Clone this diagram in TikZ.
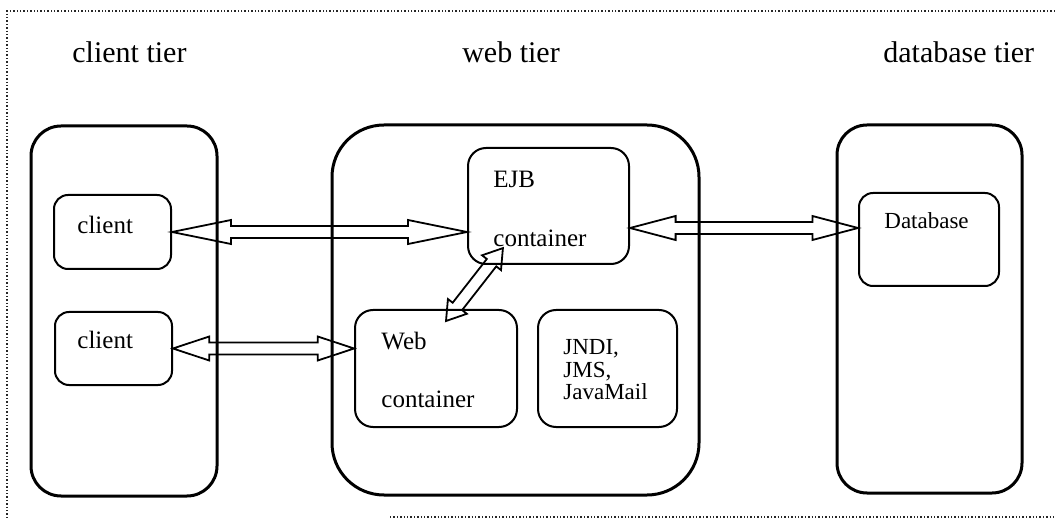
\documentclass[tikz,border=0pt]{standalone}
\usepackage{fontspec}
\setmainfont{Liberation Serif}
\usetikzlibrary{calc}
\newcommand{\blockarrow}[2]{%
  \draw[blockline] let \p1=(#1), \p2=(#2),
    \n1={atan2(\y2-\y1,\x2-\x1)}, \n2={veclen(\x2-\x1,\y2-\y1)},
    \n3={0.2*\n2}, \n4={\n2-\n3} in
    [shift={(\p1)},rotate=\n1]
    (0pt,0pt) -- (\n3,6pt) -- (\n3,3pt) -- (\n4,3pt) -- (\n4,6pt) -- (\n2,0pt)
    -- (\n4,-6pt) -- (\n4,-3pt) -- (\n3,-3pt) -- (\n3,-6pt) -- cycle;}
\begin{document}
\begin{tikzpicture}[x=0.5pt,y=-0.5pt,
    tierbox/.style={draw,line width=1.5pt,inner sep=0pt},
    inbox/.style={draw,line width=1pt,rounded corners=7pt,inner sep=0pt},
    blockline/.style={draw,line width=0.9pt,line join=miter},
    tiertext/.style={inner sep=0pt,font=\fontsize{15}{18}\selectfont},
    boxtext/.style={inner sep=0pt,font=\fontsize{12.5}{15}\selectfont},
    smalltext/.style={inner sep=0pt,font=\fontsize{11.5}{13}\selectfont}]
  \useasboundingbox (0,0) rectangle (1055,518);
  \draw[densely dotted,line width=0.7pt,black!85] (1055,11) -- (7,11) -- (7,518);
  \draw[densely dotted,line width=0.7pt,black!85] (390,517) -- (1055,517);

  \node[tiertext,anchor=base west] (lclient) at (72,63) {client tier};
  \node[tiertext,anchor=base] (lweb) at (511,63) {web tier};
  \node[tiertext,anchor=base west] (ldb) at (883,63) {database tier};

  \node[tierbox,rounded corners=15pt,minimum width=93pt,minimum height=185pt] (clienttier) at (124,311) {};
  \node[tierbox,rounded corners=26pt,minimum width=183.5pt,minimum height=185pt] (webtier) at (515.5,310) {};
  \node[tierbox,rounded corners=15pt,minimum width=92.5pt,minimum height=184pt] (dbtier) at (929.5,309) {};

  \node[inbox,minimum width=58.5pt,minimum height=37pt] (c1) at (112.5,232) {};
  \node[boxtext,anchor=base west] (tc1) at (77,234) {client};
  \node[inbox,minimum width=58.5pt,minimum height=36.5pt] (c2) at (113.5,348.5) {};
  \node[boxtext,anchor=base west] (tc2) at (77,349) {client};

  \node[inbox,rounded corners=9pt,minimum width=80.5pt,minimum height=58pt] (ejb) at (548.5,206) {};
  \node[boxtext,anchor=base west] (tejb1) at (493,188) {EJB};
  \node[boxtext,anchor=base west] (tejb2) at (493,247) {container};

  \node[inbox,rounded corners=9pt,minimum width=81pt,minimum height=58.5pt] (web) at (436,368.5) {};
  \node[boxtext,anchor=base west] (tweb1) at (381,350) {Web};
  \node[boxtext,anchor=base west] (tweb2) at (381,408) {container};

  \node[inbox,rounded corners=9pt,minimum width=69.5pt,minimum height=58.5pt] (jndi) at (607.5,368.5) {};
  \node[smalltext,anchor=base west] (tjndi1) at (563,355) {JNDI,};
  \node[smalltext,anchor=base west] (tjndi2) at (563,378) {JMS,};
  \node[smalltext,anchor=base west] (tjndi3) at (563,400) {JavaMail};

  \node[inbox,minimum width=70pt,minimum height=46.5pt] (db) at (929,239.5) {};
  \node[smalltext,anchor=base west] (tdb) at (884,229) {Database};

  \coordinate (ejbR) at ([yshift=-11pt]ejb.east);
  \coordinate (ejbD) at (503,248);
  \coordinate (webU) at (446,321);
  \blockarrow{c1.east}{ejb.west |- c1.east}
  \blockarrow{c2.east}{web.west |- c2.east}
  \blockarrow{ejbR}{db.west |- ejbR}
  \blockarrow{webU}{ejbD}
\end{tikzpicture}
\end{document}
